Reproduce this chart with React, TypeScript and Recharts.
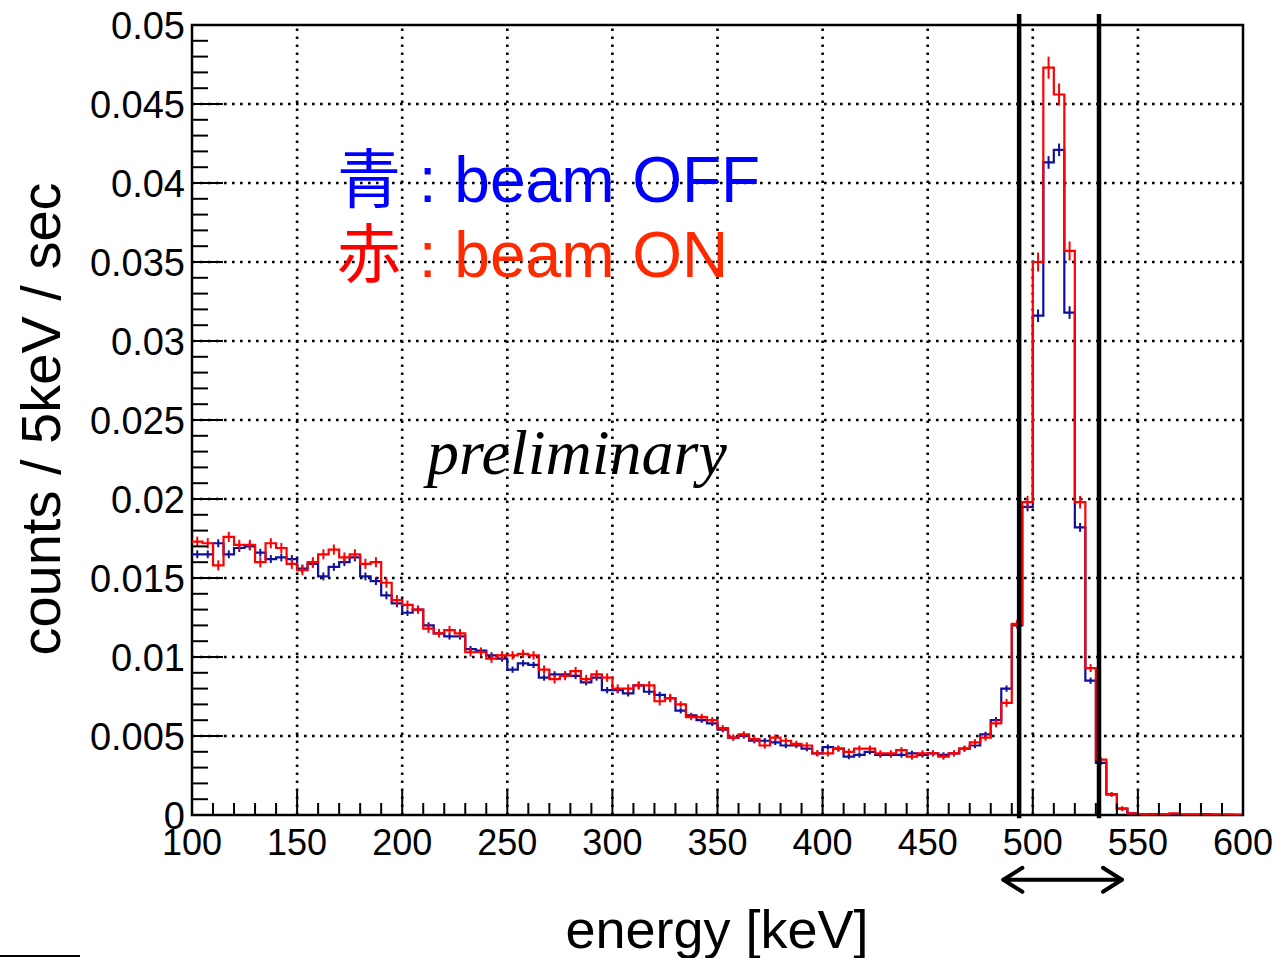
import React from 'react';
import {
  ComposedChart,
  Line,
  Scatter,
  ErrorBar,
  XAxis,
  YAxis,
  ReferenceLine,
  ReferenceArea,
} from 'recharts';

// ---- data (5 keV bins from 100 to 600 keV) ----
const binWidth = 5;
const energyMin = 100;
const energyMax = 600;

const offValues = [
  0.0165, 0.0165, 0.0172, 0.0165, 0.0169, 0.0170, 0.0166, 0.0162, 0.0163, 0.0162,
  0.0156, 0.0159, 0.0151, 0.0157, 0.0160, 0.0163, 0.0151, 0.0148, 0.0139, 0.0134,
  0.0128, 0.0130, 0.0120, 0.0115, 0.0113, 0.0113, 0.0105, 0.0104, 0.0101, 0.0099,
  0.0092, 0.0096, 0.0095, 0.0087, 0.0089, 0.0089, 0.0088, 0.0084, 0.0087, 0.0079,
  0.0079, 0.0077, 0.0082, 0.0078, 0.0076, 0.0074, 0.0066, 0.0063, 0.0060, 0.0058,
  0.0054, 0.0049, 0.0050, 0.0047, 0.0047, 0.0046, 0.0044, 0.0044, 0.0042, 0.0039,
  0.0043, 0.0042, 0.0037, 0.0038, 0.0040, 0.0038, 0.0038, 0.0038, 0.0039, 0.0038,
  0.0039, 0.0038, 0.0039, 0.0042, 0.0044, 0.0051, 0.0060, 0.0080, 0.0120, 0.0195,
  0.0316, 0.0413, 0.0421, 0.0318, 0.0182, 0.0085, 0.0033, 0.0013, 0.0004, 0.0001,
  0.00005, 0.00005, 0.00003, 0.00002, 0.00003, 0.00002, 0.00005, 0.00002, 0.00002, 0.00001,
];

const onValues = [
  0.0173, 0.0172, 0.0158, 0.0176, 0.0171, 0.0171, 0.0160, 0.0172, 0.0169, 0.0159,
  0.0155, 0.0160, 0.0165, 0.0168, 0.0163, 0.0165, 0.0159, 0.0160, 0.0147, 0.0136,
  0.0133, 0.0130, 0.0118, 0.0115, 0.0117, 0.0115, 0.0103, 0.0103, 0.0099, 0.0101,
  0.0101, 0.0102, 0.0101, 0.0092, 0.0086, 0.0088, 0.0091, 0.0086, 0.0089, 0.0087,
  0.0080, 0.0080, 0.0082, 0.0082, 0.0072, 0.0074, 0.0070, 0.0062, 0.0062, 0.0060,
  0.0055, 0.0049, 0.0051, 0.0048, 0.0044, 0.0049, 0.0047, 0.0045, 0.0044, 0.0039,
  0.0039, 0.0042, 0.0040, 0.0042, 0.0042, 0.0039, 0.0039, 0.0041, 0.0037, 0.0039,
  0.0039, 0.0037, 0.0039, 0.0042, 0.0046, 0.0049, 0.0058, 0.0071, 0.0121, 0.0198,
  0.0350, 0.0473, 0.0456, 0.0357, 0.0198, 0.0093, 0.0035, 0.0013, 0.0004, 0.0001,
  0.00005, 0.00003, 0.00005, 0.0001, 0.00003, 0.00002, 0.00002, 0.00003, 0.00001, 0.00001,
];

const offErrors = [
  0.00025, 0.00025, 0.00025, 0.00025, 0.00025, 0.00025, 0.00025, 0.00025, 0.00025, 0.00025,
  0.00025, 0.00025, 0.00025, 0.00025, 0.00025, 0.00025, 0.00025, 0.00025, 0.00025, 0.00025,
  0.0002, 0.0002, 0.0002, 0.0002, 0.0002, 0.0002, 0.0002, 0.0002, 0.0002, 0.0002,
  0.0002, 0.0002, 0.0002, 0.0002, 0.0002, 0.0002, 0.0002, 0.0002, 0.0002, 0.0002,
  0.0002, 0.0002, 0.0002, 0.0002, 0.0002, 0.0002, 0.00017, 0.00017, 0.00017, 0.00017,
  0.00017, 0.00017, 0.00017, 0.00017, 0.00017, 0.00017, 0.00017, 0.00017, 0.00017, 0.00017,
  0.00017, 0.00017, 0.00017, 0.00017, 0.00017, 0.00017, 0.00017, 0.00017, 0.00017, 0.00017,
  0.00017, 0.00017, 0.00017, 0.00017, 0.00017, 0.00017, 0.0002, 0.0002, 0.0002, 0.00028,
  0.0004, 0.0004, 0.0004, 0.0004, 0.00028, 0.0002, 0.00012, 0.00012, 0.00012, 0.00003,
  0.00003, 0.00003, 0.00003, 0.00003, 0.00003, 0.00003, 0.00003, 0.00003, 0.00003, 0.00003,
];

const onErrors = [
  0.00032, 0.00032, 0.00032, 0.00032, 0.00032, 0.00032, 0.00032, 0.00032, 0.00032, 0.00032,
  0.00032, 0.00032, 0.00032, 0.00032, 0.00032, 0.00032, 0.00032, 0.00032, 0.00032, 0.00032,
  0.00027, 0.00027, 0.00027, 0.00027, 0.00027, 0.00027, 0.00027, 0.00027, 0.00027, 0.00027,
  0.00027, 0.00027, 0.00027, 0.00027, 0.00027, 0.00027, 0.00027, 0.00027, 0.00027, 0.00027,
  0.00027, 0.00027, 0.00027, 0.00027, 0.00027, 0.00027, 0.0002, 0.0002, 0.0002, 0.0002,
  0.0002, 0.0002, 0.0002, 0.0002, 0.0002, 0.0002, 0.0002, 0.0002, 0.0002, 0.0002,
  0.0002, 0.0002, 0.0002, 0.0002, 0.0002, 0.0002, 0.0002, 0.0002, 0.0002, 0.0002,
  0.0002, 0.0002, 0.0002, 0.0002, 0.0002, 0.0002, 0.00025, 0.00025, 0.00025, 0.0004,
  0.0006, 0.0007, 0.0007, 0.0006, 0.0004, 0.00025, 0.00015, 0.00015, 0.00015, 0.00004,
  0.00004, 0.00004, 0.00004, 0.00004, 0.00004, 0.00004, 0.00004, 0.00004, 0.00004, 0.00004,
];

const xMajorTicks = [100, 150, 200, 250, 300, 350, 400, 450, 500, 550, 600];
const yMajorTicks = [0, 0.005, 0.01, 0.015, 0.02, 0.025, 0.03, 0.035, 0.04, 0.045, 0.05];
const xMinorStep = 10;
const yMinorStepMilli = 1;

const windowLines = [493.5, 531.5];
const arrowRange = [486, 542.4];
const arrowLevel = -0.0041;

// ---- derived tables ----
const xTicks: number[] = [];
for (let v = energyMin; v <= energyMax; v += xMinorStep) xTicks.push(v);
const yTicks: number[] = [];
for (let i = 0; i <= 50; i += yMinorStepMilli) yTicks.push(i / 1000);

const stepData = (vals: number[]) => [
  ...vals.map((v, i) => ({ x: energyMin + binWidth * i, y: v })),
  { x: energyMax, y: vals[vals.length - 1] },
];
const centerData = (vals: number[], errs: number[]) =>
  vals.map((v, i) => ({ x: energyMin + binWidth * (i + 0.5), y: v, err: errs[i] }));

const offStep = stepData(offValues);
const onStep = stepData(onValues);
const offCenters = centerData(offValues, offErrors);
const onCenters = centerData(onValues, onErrors);

const BLUE = '#10109c';
const RED = '#ff0000';
const FONT = '"Liberation Sans", Arial, Helvetica, sans-serif';

const isXMajor = (v: number) => xMajorTicks.some((t) => Math.abs(t - v) < 1e-6);
const isYMajor = (v: number) => yMajorTicks.some((t) => Math.abs(t - v) < 1e-9);
const fmtY = (v: number) => String(parseFloat(v.toFixed(3)));

const XTickBottom = (props: any) => {
  const { x, y, payload } = props;
  const major = isXMajor(payload.value);
  return (
    <g>
      <line x1={x} x2={x} y1={y} y2={y - (major ? 24 : 12)} stroke="#000" strokeWidth={2} />
      {major && (
        <text x={x} y={y + 40} textAnchor="middle" fontSize={36} fontFamily={FONT} fill="#000">
          {payload.value}
        </text>
      )}
    </g>
  );
};

const XTickTop = (props: any) => {
  const { x, y, payload } = props;
  const major = isXMajor(payload.value);
  return <line x1={x} x2={x} y1={y} y2={y + (major ? 24 : 12)} stroke="#000" strokeWidth={2} />;
};

const YTickLeft = (props: any) => {
  const { x, y, payload } = props;
  const major = isYMajor(payload.value);
  return (
    <g>
      <line x1={x} x2={x + (major ? 31 : 16)} y1={y} y2={y} stroke="#000" strokeWidth={2} />
      {major && (
        <text x={x - 7} y={y} dy="0.36em" textAnchor="end" fontSize={38} fontFamily={FONT} fill="#000">
          {fmtY(payload.value)}
        </text>
      )}
    </g>
  );
};

const YTickRight = (props: any) => {
  const { x, y, payload } = props;
  const major = isYMajor(payload.value);
  return <line x1={x} x2={x - (major ? 31 : 16)} y1={y} y2={y} stroke="#000" strokeWidth={2} />;
};

const EmptyShape = () => <g />;

const ArrowShape = (p: any) => {
  const { x1, y1, x2, y2 } = p;
  const h = 19;
  const w = 12;
  return (
    <g stroke="#000" strokeWidth={4} fill="none" strokeLinecap="round" strokeLinejoin="round">
      <line x1={x1} y1={y1} x2={x2} y2={y2} />
      <polyline points={`${x1 + h},${y1 - w} ${x1},${y1} ${x1 + h},${y1 + w}`} />
      <polyline points={`${x2 - h},${y2 - w} ${x2},${y2} ${x2 - h},${y2 + w}`} />
    </g>
  );
};

export default function App() {
  const W = 1278;
  const H = 958;
  return (
    <div style={{ position: 'absolute', left: 0, top: 0, width: W, height: H, background: '#fff' }}>
      <ComposedChart
        width={W}
        height={H}
        margin={{ top: 25, right: 35, bottom: 0, left: 0 }}
        style={{ overflow: 'visible' }}
      >
        <XAxis
          xAxisId={0}
          type="number"
          dataKey="x"
          domain={[energyMin, energyMax]}
          ticks={xTicks}
          interval={0}
          allowDataOverflow
          height={143}
          tickSize={0}
          tickMargin={0}
          tickLine={false}
          axisLine={false}
          tick={XTickBottom}
        />
        <XAxis
          xAxisId="top"
          orientation="top"
          type="number"
          dataKey="x"
          domain={[energyMin, energyMax]}
          ticks={xTicks}
          interval={0}
          allowDataOverflow
          height={0}
          tickSize={0}
          tickMargin={0}
          tickLine={false}
          axisLine={false}
          tick={XTickTop}
        />
        <YAxis
          yAxisId={0}
          type="number"
          dataKey="y"
          domain={[0, 0.05]}
          ticks={yTicks}
          interval={0}
          allowDataOverflow
          width={192}
          tickSize={0}
          tickMargin={0}
          tickLine={false}
          axisLine={false}
          tick={YTickLeft}
        />
        <YAxis
          yAxisId="right"
          orientation="right"
          type="number"
          dataKey="y"
          domain={[0, 0.05]}
          ticks={yTicks}
          interval={0}
          allowDataOverflow
          width={0}
          tickSize={0}
          tickMargin={0}
          tickLine={false}
          axisLine={false}
          tick={YTickRight}
        />

        {xMajorTicks
          .filter((v) => v > energyMin && v < energyMax)
          .map((v) => (
            <ReferenceLine key={`gx${v}`} x={v} stroke="#000" strokeWidth={2.6} strokeDasharray="2.6 5.4" />
          ))}
        {yMajorTicks
          .filter((v) => v > 0 && v < 0.05)
          .map((v) => (
            <ReferenceLine key={`gy${v}`} y={v} stroke="#000" strokeWidth={2.6} strokeDasharray="2.6 5.4" />
          ))}

        <Line
          data={offStep}
          dataKey="y"
          type="stepAfter"
          stroke={BLUE}
          strokeWidth={2.2}
          dot={false}
          activeDot={false}
          isAnimationActive={false}
        />
        <Scatter data={offCenters} dataKey="y" shape={EmptyShape} isAnimationActive={false}>
          <ErrorBar dataKey="err" direction="y" width={0} stroke={BLUE} strokeWidth={2} isAnimationActive={false} />
        </Scatter>
        <Line
          data={onStep}
          dataKey="y"
          type="stepAfter"
          stroke={RED}
          strokeWidth={2.2}
          dot={false}
          activeDot={false}
          isAnimationActive={false}
        />
        <Scatter data={onCenters} dataKey="y" shape={EmptyShape} isAnimationActive={false}>
          <ErrorBar dataKey="err" direction="y" width={0} stroke={RED} strokeWidth={2} isAnimationActive={false} />
        </Scatter>

        <ReferenceArea
          x1={energyMin}
          x2={energyMax}
          y1={0}
          y2={0.05}
          fill="none"
          fillOpacity={0}
          stroke="#000"
          strokeWidth={2.5}
          ifOverflow="visible"
        />

        {windowLines.map((v) => (
          <ReferenceLine
            key={`w${v}`}
            segment={[
              { x: v, y: -0.0002 },
              { x: v, y: 0.0507 },
            ]}
            stroke="#000"
            strokeWidth={4.5}
            ifOverflow="visible"
          />
        ))}
        <ReferenceLine
          segment={[
            { x: arrowRange[0], y: arrowLevel },
            { x: arrowRange[1], y: arrowLevel },
          ]}
          ifOverflow="visible"
          stroke="#000"
          shape={ArrowShape}
        />
      </ComposedChart>

      <svg
        width={W}
        height={H}
        style={{ position: 'absolute', left: 0, top: 0, pointerEvents: 'none', overflow: 'visible' }}
      >
        <text
          transform="translate(60,419) rotate(-90)"
          textAnchor="middle"
          fontSize={56}
          fontFamily={FONT}
          fill="#000"
        >
          counts / 5keV / sec
        </text>
        <text x={717} y={948} textAnchor="middle" fontSize={54} fontFamily={FONT} fill="#000">
          energy [keV]
        </text>
        <text x={337} y={202} fontSize={64} fontFamily={`${FONT}, "Noto Sans CJK JP"`} fill="#0000ff">
          <tspan fontFamily='"Noto Sans CJK JP"'>青</tspan>
          <tspan> : beam OFF</tspan>
        </text>
        <text x={337} y={277} fontSize={64} fontFamily={`${FONT}, "Noto Sans CJK JP"`} fill="#ff2a00">
          <tspan fontFamily='"Noto Sans CJK JP"' fill="#ff0000">赤</tspan>
          <tspan> : beam ON</tspan>
        </text>
        <text
          x={427}
          y={474}
          fontSize={64}
          fontStyle="italic"
          fontFamily='"Liberation Serif", "Times New Roman", serif'
          fill="#000"
        >
          preliminary
        </text>
      </svg>
      <div style={{ position: 'absolute', left: 0, top: 955, width: 80, height: 2, background: '#000' }} />
    </div>
  );
}
